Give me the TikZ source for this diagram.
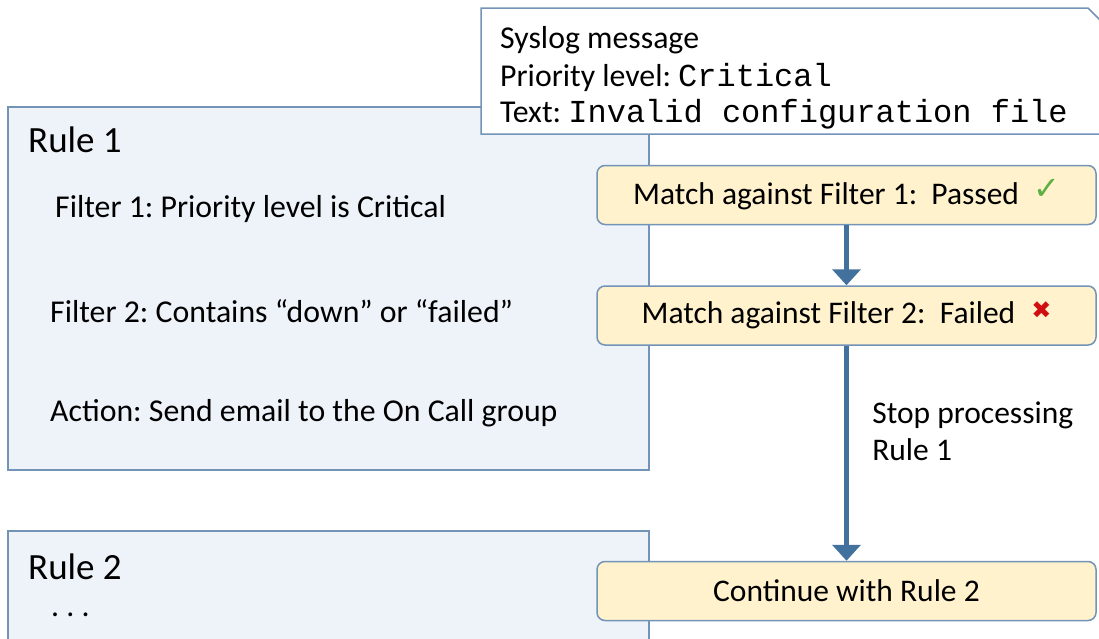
\documentclass[tikz,border=0pt]{standalone}
\usepackage{fontspec}
\setmainfont{Carlito}
\setmonofont{Liberation Mono}
\newfontfamily\symfont{DejaVu Sans}
\usetikzlibrary{arrows.meta}
\frenchspacing

\definecolor{rulefill}{HTML}{EEF3FA}
\definecolor{ruleline}{HTML}{7393B7}
\definecolor{matchfill}{HTML}{FFF2CC}
\definecolor{arrowblue}{HTML}{41719C}
\definecolor{okgreen}{HTML}{5DB043}
\definecolor{badred}{HTML}{D01010}

\newcommand{\mono}[1]{{\fontsize{32}{37}\selectfont\texttt{#1}}}

\begin{document}
\begin{tikzpicture}[x=1pt, y=-1pt,
    rulebox/.style={draw=ruleline, line width=1.5pt, fill=rulefill},
    matchbox/.style={draw=ruleline, line width=1.5pt, fill=matchfill,
        rounded corners=8pt, minimum width=499pt, minimum height=59pt,
        font=\fontsize{31.5}{37}\selectfont},
    ruletext/.style={anchor=west, inner sep=0pt, font=\fontsize{31.8}{37}\selectfont},
    flow/.style={draw=arrowblue, line width=5pt,
        -{Triangle[width=28pt, length=16pt]}}]
    \useasboundingbox (0,0) rectangle (1099,638);
    \clip (0,0) rectangle (1099,638);

    % Rule boxes
    \draw[rulebox] (8,107) rectangle (649,470);
    \draw[rulebox] (8,531) rectangle (649,660);
    \node[ruletext, font=\fontsize{37}{44}\selectfont] (rulea) at (28,140) {Rule 1};
    \node[ruletext] (filtera) at (55,209) {Filter 1: Priority level is Critical};
    \node[ruletext] (filterb) at (50,311) {Filter 2: Contains “down” or “failed”};
    \node[ruletext] (action) at (50,413) {Action: Send email to the On Call group};
    \node[ruletext, font=\fontsize{37}{44}\selectfont] (ruleb) at (28,567) {Rule 2};
    \node[ruletext] (dots) at (51,615) {. . .};

    % Syslog message
    \draw[draw=ruleline, line width=1.5pt, fill=white]
        (481,8) -- (1088,8) -- (1112,32) -- (1112,134) -- (481,134) -- cycle;
    \node[ruletext] (msg) at (500,40) {Syslog message};
    \node[ruletext] (prio) at (500,77) {Priority level:\ \mono{Critical}};
    \node[ruletext] (txt) at (500,114) {Text:\ \mono{Invalid configuration file}};

    % Matching
    \node[matchbox] (matcha) at (846.5,195)
        {Match against Filter 1:\ \ Passed\hspace{14pt}\raisebox{5pt}{\textcolor{okgreen}{\symfont\fontsize{32}{32}\selectfont ✓}}};
    \node[matchbox] (matchb) at (846.5,315.5)
        {Match against Filter 2:\ \ Failed\hspace{16pt}\raisebox{5pt}{\textcolor{badred}{\symfont\bfseries\fontsize{24}{24}\selectfont ✖}}};
    \node[matchbox] (cont) at (846.5,591) {Continue with Rule 2};

    \draw[flow] (matcha) -- (matchb);
    \draw[flow] (matchb) -- (cont)
        node[pos=0.4, right=20pt, align=left, font=\fontsize{31.5}{37}\selectfont] (stop)
        {Stop processing\\Rule 1};
\end{tikzpicture}
\end{document}
